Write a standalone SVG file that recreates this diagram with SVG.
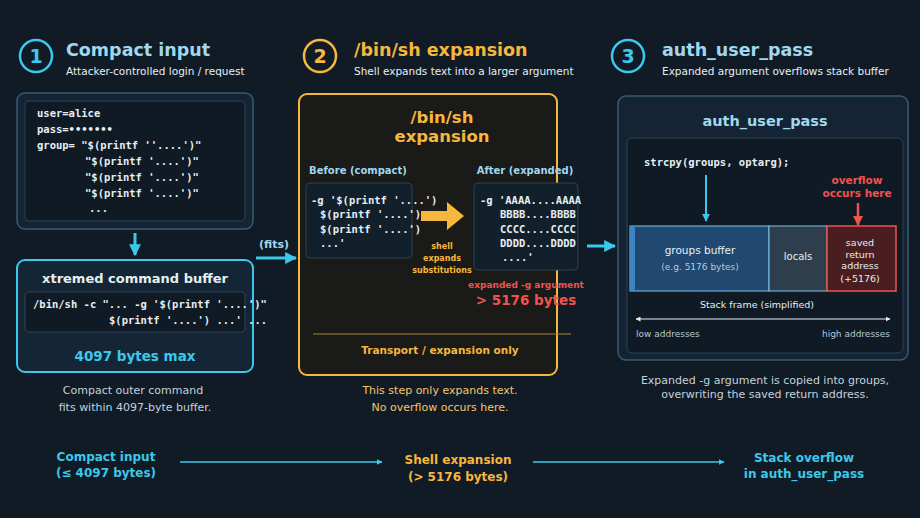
<svg xmlns="http://www.w3.org/2000/svg" width="920" height="518" viewBox="0 0 920 518">
<defs>
<marker id="ac" viewBox="0 0 10 10" refX="9" refY="5" markerWidth="4" markerHeight="4" orient="auto-start-reverse"><path d="M0,0L10,5L0,10z" fill="#3cc8ea"/></marker>
<marker id="ar" viewBox="0 0 10 10" refX="9" refY="5" markerWidth="4" markerHeight="4" orient="auto"><path d="M0,0L10,5L0,10z" fill="#ef5350"/></marker>
<marker id="aw" viewBox="0 0 10 10" refX="9" refY="5" markerWidth="5" markerHeight="5" orient="auto-start-reverse"><path d="M0,0L10,5L0,10z" fill="#e6eef2"/></marker>
<style>
.s{font-family:"DejaVu Sans","Noto Sans",sans-serif}
.m{font-family:"DejaVu Sans Mono","Liberation Mono",monospace;fill:#e6eef2;font-size:10.5px;font-weight:bold}
.c{fill:#3cc8ea}.o{fill:#f5b73c}.r{fill:#ef5350}.w{fill:#e6eef2}.g{fill:#b8c8d2}.lb{fill:#9fd8ef}
.b{font-weight:bold}
.cap{font-family:"DejaVu Sans","Noto Sans",sans-serif;font-size:11px;fill:#c4d2dc;text-anchor:middle}
</style>
</defs>
<rect width="920" height="518" fill="#111b26"/>
<g id="header1">
<circle cx="36" cy="56" r="16" fill="none" stroke="#3cc8ea" stroke-width="2.5"/>
<text x="36" y="63" class="s c b" font-size="19" text-anchor="middle">1</text>
<text x="66" y="56" class="s b lb" font-size="17.5">Compact input</text>
<text x="66" y="75" class="s w" font-size="10.5">Attacker-controlled login / request</text>
</g>
<g id="header2">
<circle cx="320" cy="56" r="16" fill="none" stroke="#f5b73c" stroke-width="2.5"/>
<text x="320" y="63" class="s o b" font-size="19" text-anchor="middle">2</text>
<text x="354" y="56" class="s b o" font-size="17.5">/bin/sh expansion</text>
<text x="354" y="75" class="s w" font-size="10.5">Shell expands text into a larger argument</text>
</g>
<g id="header3">
<circle cx="628" cy="56" r="16" fill="none" stroke="#3cc8ea" stroke-width="2.5"/>
<text x="628" y="63" class="s c b" font-size="19" text-anchor="middle">3</text>
<text x="662" y="56" class="s b lb" font-size="17.5">auth_user_pass</text>
<text x="662" y="75" class="s w" font-size="10.5">Expanded argument overflows stack buffer</text>
</g>
<g id="login">
<rect x="17" y="93" width="236" height="136" rx="8" fill="#142434" stroke="#3a5a70" stroke-width="1.5"/>
<rect x="25" y="101" width="220" height="120" rx="4" fill="#0f1a24" stroke="#2c4254"/>
<text class="m"><tspan x="37" y="117">user=alice</tspan><tspan x="37" y="133">pass=•••••••</tspan><tspan x="37" y="149">group= "$(printf ''....')"</tspan><tspan x="85" y="165">"$(printf '....')"</tspan><tspan x="85" y="181">"$(printf '....')"</tspan><tspan x="85" y="197">"$(printf '....')"</tspan><tspan x="89" y="212">...</tspan></text>
</g>
<g id="cmdbuf">
<rect x="17" y="260" width="236" height="112" rx="8" fill="#142636" stroke="#3cc8ea" stroke-width="2"/>
<text x="135" y="283" class="s b w" font-size="13" text-anchor="middle">xtremed command buffer</text>
<rect x="25" y="292" width="220" height="40" rx="4" fill="#0f1a24" stroke="#2c4254"/>
<text class="m" font-size="7.8"><tspan x="33" y="308">/bin/sh -c "... -g '$(printf '....')"</tspan><tspan x="109" y="324">$(printf '....') ...' ...</tspan></text>
<text x="135" y="361" class="s b c" font-size="13.5" text-anchor="middle">4097 bytes max</text>
<text class="cap"><tspan x="133" y="394">Compact outer command</tspan><tspan x="135" y="411">fits within 4097-byte buffer.</tspan></text>
</g>
<g id="expansion">
<rect x="299" y="94" width="258" height="281" rx="8" fill="#1a1a18" stroke="#f5b73c" stroke-width="2"/>
<text x="442" y="123" class="s b o" font-size="16.5" text-anchor="middle">/bin/sh</text>
<text x="442" y="142" class="s b o" font-size="16.5" text-anchor="middle">expansion</text>
<text x="358" y="174" class="s b lb" font-size="10" text-anchor="middle">Before (compact)</text>
<rect x="306" y="183" width="106" height="75" rx="4" fill="#12202c" stroke="#2c4254"/>
<text class="m" font-size="7.5"><tspan x="311" y="204">-g '$(printf '....')</tspan><tspan x="320" y="218">$(printf '....')</tspan><tspan x="320" y="233">$(printf '....')</tspan><tspan x="320" y="247">...'</tspan></text>
<path d="M421,211H447V202L464,216L447,230V221H421Z" fill="#f5b73c"/>
<text class="s b o" font-size="8" text-anchor="middle"><tspan x="442" y="249">shell</tspan><tspan x="442" y="261">expands</tspan><tspan x="442" y="273">substitutions</tspan></text>
<text x="525" y="174" class="s b lb" font-size="10" text-anchor="middle">After (expanded)</text>
<rect x="474" y="183" width="104" height="87" rx="4" fill="#12202c" stroke="#2c4254"/>
<text class="m" font-size="7.5"><tspan x="480" y="204">-g 'AAAA....AAAA</tspan><tspan x="500" y="218">BBBB....BBBB</tspan><tspan x="500" y="233">CCCC....CCCC</tspan><tspan x="500" y="247">DDDD....DDDD</tspan><tspan x="502" y="261">....'</tspan></text>
<text x="526" y="288" class="s b r" font-size="9" text-anchor="middle">expanded -g argument</text>
<text x="526" y="305" class="s b r" font-size="13.5" text-anchor="middle">&gt; 5176 bytes</text>
<line x1="313" y1="334" x2="571" y2="334" stroke="#a8843a" stroke-width="1"/>
<text x="440" y="354" class="s b o" font-size="10.5" text-anchor="middle">Transport / expansion only</text>
<text class="cap" style="fill:#f5c66a"><tspan x="440" y="394">This step only expands text.</tspan><tspan x="440" y="411">No overflow occurs here.</tspan></text>
</g>
<g id="auth">
<rect x="618" y="96" width="290" height="264" rx="8" fill="#142434" stroke="#3a5a70" stroke-width="1.5"/>
<text x="765" y="126" class="s b lb" font-size="14.5" text-anchor="middle">auth_user_pass</text>
<rect x="627" y="138" width="276" height="215" rx="5" fill="#0f1a24" stroke="#2c4254"/>
<text x="644" y="166" class="m" font-size="10">strcpy(groups, optarg);</text>
<text class="s b r" font-size="10.5" text-anchor="middle"><tspan x="857" y="184">overflow</tspan><tspan x="857" y="197">occurs here</tspan></text>
<rect x="630" y="226" width="139" height="65" fill="#204870" stroke="#7fc4e8"/>
<rect x="630" y="226" width="5" height="65" fill="#3d85c0"/>
<rect x="769" y="226" width="58" height="65" fill="#2e3e4c" stroke="#7fc4e8"/>
<rect x="827" y="226" width="69" height="65" fill="#4a1e20" stroke="#ef5350" stroke-width="1.5"/>
<text x="700" y="254" class="s w" font-size="10.5" text-anchor="middle">groups buffer</text>
<text x="700" y="270" class="s g" font-size="9" text-anchor="middle">(e.g. 5176 bytes)</text>
<text x="798" y="260" class="s w" font-size="10" text-anchor="middle">locals</text>
<text class="s w" font-size="9.5" text-anchor="middle"><tspan x="860" y="246">saved</tspan><tspan x="860" y="258">return</tspan><tspan x="860" y="269">address</tspan><tspan x="860" y="282">(+5176)</tspan></text>
<text x="757" y="308" class="s w" font-size="9.5" text-anchor="middle">Stack frame (simplified)</text>
<text x="636" y="337" class="s g" font-size="9">low addresses</text>
<text x="890" y="337" class="s g" font-size="9" text-anchor="end">high addresses</text>
<text class="cap"><tspan x="765" y="384">Expanded -g argument is copied into groups,</tspan><tspan x="765" y="398">overwriting the saved return address.</tspan></text>
</g>
<g id="bottom">
<text class="s b c" font-size="12" text-anchor="middle"><tspan x="106" y="461">Compact input</tspan><tspan x="106" y="477">(≤ 4097 bytes)</tspan></text>
<text class="s b o" font-size="12" text-anchor="middle"><tspan x="458" y="464">Shell expansion</tspan><tspan x="458" y="481">(&gt; 5176 bytes)</tspan></text>
<text class="s b c" font-size="12" text-anchor="middle"><tspan x="804" y="462">Stack overflow</tspan><tspan x="804" y="478">in auth_user_pass</tspan></text>
</g>
<g id="connectors" fill="none">
<line x1="135" y1="233" x2="135" y2="255" stroke="#3cc8ea" stroke-width="3" marker-end="url(#ac)"/>
<text x="274" y="248" class="s b lb" font-size="11" text-anchor="middle" stroke="none">(fits)</text>
<line x1="256" y1="258" x2="296" y2="258" stroke="#3cc8ea" stroke-width="3" marker-end="url(#ac)"/>
<line x1="587" y1="246" x2="615" y2="246" stroke="#3cc8ea" stroke-width="3" marker-end="url(#ac)"/>
<line x1="706" y1="175" x2="706" y2="221" stroke="#3cc8ea" stroke-width="2" marker-end="url(#ac)"/>
<line x1="858" y1="203" x2="858" y2="225" stroke="#ef5350" stroke-width="2.5" marker-end="url(#ar)"/>
<line x1="636" y1="319" x2="890" y2="319" stroke="#e6eef2" stroke-width="1" marker-start="url(#aw)" marker-end="url(#aw)"/>
<line x1="180" y1="462" x2="382" y2="462" stroke="#3cc8ea" stroke-width="1.5" marker-end="url(#ac)"/>
<line x1="533" y1="462" x2="724" y2="462" stroke="#3cc8ea" stroke-width="1.5" marker-end="url(#ac)"/>
</g>
</svg>
